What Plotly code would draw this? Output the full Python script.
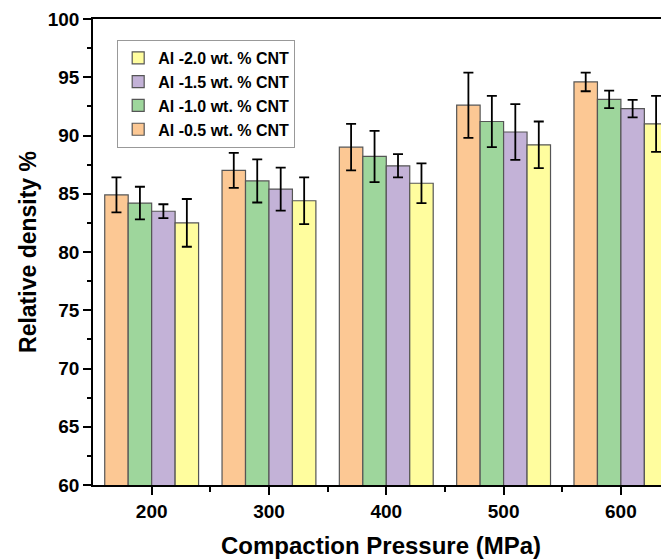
import plotly.graph_objects as go

pressures = [200, 300, 400, 500, 600]
series_names = ["Al -0.5 wt. % CNT", "Al -1.0 wt. % CNT", "Al -1.5 wt. % CNT", "Al -2.0 wt. % CNT"]
dens_05 = [84.9, 87.0, 89.0, 92.6, 94.6]
err_05 = [1.5, 1.5, 2.0, 2.8, 0.8]
dens_10 = [84.2, 86.1, 88.2, 91.2, 93.1]
err_10 = [1.4, 1.85, 2.2, 2.2, 0.75]
dens_15 = [83.5, 85.4, 87.4, 90.3, 92.3]
err_15 = [0.6, 1.85, 1.0, 2.4, 0.75]
dens_20 = [82.5, 84.4, 85.9, 89.2, 91.0]
err_20 = [2.05, 2.0, 1.7, 2.0, 2.4]
colors = ["#FCC894", "#9ED69C", "#C3B2D7", "#FFFD9E"]

fig = go.Figure()
for name, vals, errs, col in zip(series_names, [dens_05, dens_10, dens_15, dens_20],
                                 [err_05, err_10, err_15, err_20], colors):
    fig.add_trace(go.Bar(
        x=pressures, y=vals, name=name,
        marker=dict(color=col, line=dict(color="#555555", width=1.2)),
        error_y=dict(type="data", array=errs, visible=True, color="black",
                     thickness=1.8, width=5),
    ))

font_family = "Liberation Sans, Arial, sans-serif"
fig.update_layout(
    width=661, height=551,
    margin=dict(l=85, r=0, t=11, b=74),
    barmode="group", bargap=0.2, bargroupgap=0,
    plot_bgcolor="white", paper_bgcolor="white",
    font=dict(family=font_family, color="black"),
    showlegend=True,
    legend=dict(
        x=0.042, y=0.955, xanchor="left", yanchor="top",
        traceorder="reversed",
        bgcolor="white", bordercolor="#999999", borderwidth=1,
        font=dict(size=16, family=font_family, color="black", weight="bold"),
        tracegroupgap=0, itemwidth=30,
    ),
    xaxis=dict(
        range=[150, 641], tickvals=pressures, ticktext=[str(p) for p in pressures],
        showgrid=False, zeroline=False,
        showline=True, linecolor="black", linewidth=1.5, mirror=True,
        ticks="outside", ticklen=8, tickwidth=1.5, tickcolor="black",
        minor=dict(tickvals=[250, 350, 450, 550], ticks="outside", ticklen=5,
                   tickwidth=1.5, tickcolor="black"),
        tickfont=dict(size=19, family=font_family, color="black", weight="bold"),
        title=dict(text="Compaction Pressure (MPa)", standoff=20,
                   font=dict(size=24, family=font_family, color="black", weight="bold")),
    ),
    yaxis=dict(
        range=[60, 100], tickvals=[60, 65, 70, 75, 80, 85, 90, 95, 100],
        showgrid=False, zeroline=False,
        showline=True, linecolor="black", linewidth=1.5,
        ticks="outside", ticklen=8, tickwidth=1.5, tickcolor="black",
        minor=dict(dtick=2.5, ticks="outside", ticklen=4, tickwidth=1.5, tickcolor="black"),
        tickfont=dict(size=19, family=font_family, color="black", weight="bold"),
        title=dict(text="Relative density %", standoff=5,
                   font=dict(size=23, family=font_family, color="black", weight="bold")),
    ),
)

fig.write_html("out.html")
